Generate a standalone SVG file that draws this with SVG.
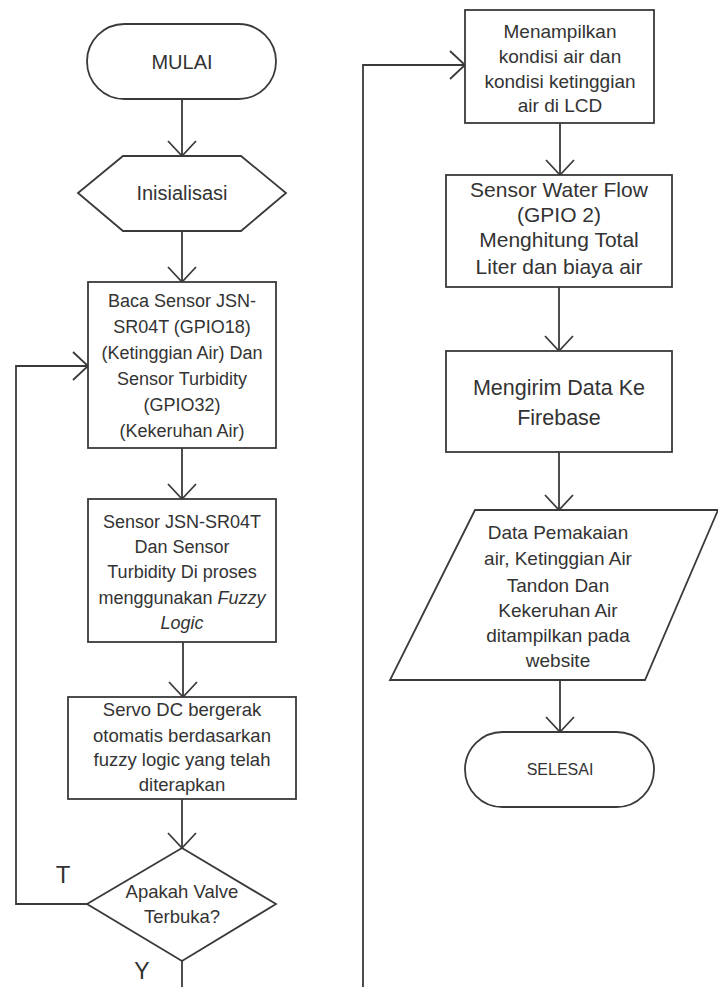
<svg xmlns="http://www.w3.org/2000/svg" width="718" height="987" viewBox="0 0 718 987">
  <style>
    .shape { fill: #ffffff; stroke: #3a3a3a; stroke-width: 1.8; }
    .wire { fill: none; stroke: #3a3a3a; stroke-width: 1.8; }
    text { font-family: "Liberation Sans", Arial, sans-serif; fill: #333333; text-anchor: middle; }
    .it { font-style: italic; }
  </style>
  <defs>
    <marker id="arr" viewBox="-17 -16 20 32" markerWidth="20" markerHeight="32" refX="0" refY="0" orient="auto" markerUnits="userSpaceOnUse" overflow="visible">
      <path d="M-15,-14 L0,0 L-15,14" fill="none" stroke="#3a3a3a" stroke-width="1.8"/>
    </marker>
  </defs>
  <rect width="718" height="987" fill="#ffffff"/>

  <!-- connectors -->
  <g id="connectors">
    <path class="wire" d="M182,99 V156" marker-end="url(#arr)"/>
    <path class="wire" d="M182,231 V282" marker-end="url(#arr)"/>
    <path class="wire" d="M182,448 V499" marker-end="url(#arr)"/>
    <path class="wire" d="M183,642 V697" marker-end="url(#arr)"/>
    <path class="wire" d="M182,799 V848" marker-end="url(#arr)"/>
    <path class="wire" d="M182,961 V987"/>
    <path class="wire" d="M87,904 H16 V366 H88" marker-end="url(#arr)"/>
    <path class="wire" d="M363,987 V65 H465" marker-end="url(#arr)"/>
    <path class="wire" d="M560,123 V175" marker-end="url(#arr)"/>
    <path class="wire" d="M559,287 V351" marker-end="url(#arr)"/>
    <path class="wire" d="M559,452 V510" marker-end="url(#arr)"/>
    <path class="wire" d="M560,680 V732" marker-end="url(#arr)"/>
    <text x="63" y="883" font-size="24">T</text>
    <text x="142" y="979" font-size="23">Y</text>
  </g>

  <g id="mulai">
    <rect class="shape" x="87" y="24" width="189" height="75" rx="37.5"/>
    <text x="182" y="69" font-size="20">MULAI</text>
  </g>

  <g id="inisialisasi">
    <polygon class="shape" points="78,193 123,156 241,156 286,193 241,231 123,231"/>
    <text x="182" y="200" font-size="20">Inisialisasi</text>
  </g>

  <g id="baca-sensor">
    <rect class="shape" x="88" y="282" width="188" height="166"/>
    <g font-size="18">
      <text x="182" y="307">Baca Sensor JSN-</text>
      <text x="182" y="333">SR04T (GPIO18)</text>
      <text x="182" y="359">(Ketinggian Air) Dan</text>
      <text x="182" y="385">Sensor Turbidity</text>
      <text x="182" y="411">(GPIO32)</text>
      <text x="182" y="437">(Kekeruhan Air)</text>
    </g>
  </g>

  <g id="proses-fuzzy">
    <rect class="shape" x="88" y="499" width="188" height="143"/>
    <g font-size="18">
      <text x="182" y="528">Sensor JSN-SR04T</text>
      <text x="182" y="553">Dan Sensor</text>
      <text x="182" y="578">Turbidity Di proses</text>
      <text x="182" y="604">menggunakan <tspan class="it">Fuzzy</tspan></text>
      <text x="182" y="629" class="it">Logic</text>
    </g>
  </g>

  <g id="servo">
    <rect class="shape" x="68" y="697" width="228" height="102"/>
    <g font-size="18.5">
      <text x="182" y="716">Servo DC bergerak</text>
      <text x="182" y="742">otomatis berdasarkan</text>
      <text x="182" y="766">fuzzy logic yang telah</text>
      <text x="182" y="791">diterapkan</text>
    </g>
  </g>

  <g id="valve">
    <polygon class="shape" points="182,848 276,904 182,961 87,904"/>
    <g font-size="18.5">
      <text x="182" y="898">Apakah Valve</text>
      <text x="182" y="923">Terbuka?</text>
    </g>
  </g>

  <g id="tampil-lcd">
    <rect class="shape" x="465" y="10" width="189" height="113"/>
    <g font-size="19">
      <text x="560" y="38">Menampilkan</text>
      <text x="560" y="63">kondisi air dan</text>
      <text x="560" y="88">kondisi ketinggian</text>
      <text x="560" y="112">air di LCD</text>
    </g>
  </g>

  <g id="water-flow">
    <rect class="shape" x="446" y="175" width="226" height="112"/>
    <g font-size="21">
      <text x="559" y="197">Sensor Water Flow</text>
      <text x="559" y="222">(GPIO 2)</text>
      <text x="559" y="247">Menghitung Total</text>
      <text x="559" y="274">Liter dan biaya air</text>
    </g>
  </g>

  <g id="firebase">
    <rect class="shape" x="446" y="351" width="226" height="101"/>
    <g font-size="21.5">
      <text x="559" y="395">Mengirim Data Ke</text>
      <text x="559" y="425">Firebase</text>
    </g>
  </g>

  <g id="website">
    <polygon class="shape" points="475,510 718,510 645,680 390,680"/>
    <g font-size="19">
      <text x="558" y="539">Data Pemakaian</text>
      <text x="558" y="565">air, Ketinggian Air</text>
      <text x="558" y="592">Tandon Dan</text>
      <text x="558" y="617">Kekeruhan Air</text>
      <text x="558" y="642">ditampilkan pada</text>
      <text x="558" y="667">website</text>
    </g>
  </g>

  <g id="selesai">
    <rect class="shape" x="465" y="732" width="189" height="75" rx="37.5"/>
    <text x="560" y="775" font-size="16">SELESAI</text>
  </g>
</svg>
